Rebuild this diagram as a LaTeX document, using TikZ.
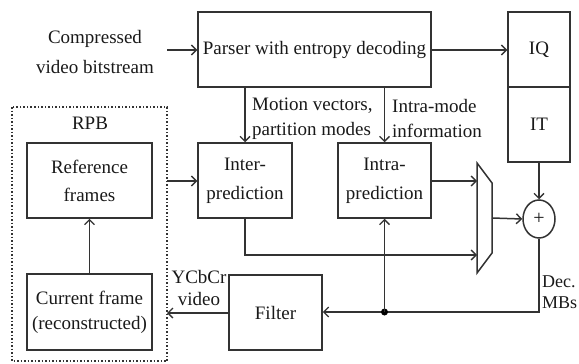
\documentclass[tikz,border=0pt]{standalone}
\usepackage{fontspec}
\setmainfont{Liberation Serif}
\usetikzlibrary{arrows.meta,shapes.geometric,calc}
\begin{document}
\begin{tikzpicture}[x=1pt,y=-1pt,
  every node/.style={font=\fontsize{19}{25}\selectfont, text=black!90},
  blk/.style={draw=black!80, line width=1.5pt, inner sep=0pt, align=center},
  conn/.style={draw=black!80, line width=1.5pt},
  arr/.style={conn, -{Straight Barb[length=5pt,width=10pt,line width=1.4pt]}},
  lbl/.style={inner sep=0pt, align=left, anchor=west}
]
\useasboundingbox (0,0) rectangle (579,364);
% dotted RPB box
\draw[black!80, line width=1.5pt, dotted] (12,107) rectangle (167,361);
\node[inner sep=0pt] (rpb) at (90,123) {RPB};
% boxes
\node[blk, minimum width=233pt, minimum height=75pt] (parser) at (314.5,49.5) {Parser with entropy decoding};
\node[blk, minimum width=62pt, minimum height=75pt] (iq) at (539,49.5) {IQ};
\node[blk, minimum width=62pt, minimum height=75pt] (it) at (539,124.5) {IT};
\node[blk, minimum width=125pt, minimum height=75pt, font=\fontsize{19}{28}\selectfont] (ref) at (89.5,180.5) {Reference\\frames};
\node[blk, minimum width=125pt, minimum height=76pt] (cur) at (89.5,312) {Current frame\\(reconstructed)};
\node[blk, minimum width=94pt, minimum height=75pt, font=\fontsize{19}{29}\selectfont] (inter) at (245,180.5) {Inter-\\prediction};
\node[blk, minimum width=93pt, minimum height=75pt, font=\fontsize{19}{29}\selectfont] (intra) at (384.5,180.5) {Intra-\\prediction};
\node[blk, minimum width=93pt, minimum height=75pt] (filter) at (275.5,312.5) {Filter};
\node[blk, ellipse, minimum width=32pt, minimum height=38pt] (adder) at (539,219) {\fontsize{20}{20}\selectfont +};
% mux
\draw[conn, line join=miter] (477,163) -- (492,183) -- (492,253) -- (477,273) -- cycle;
\coordinate (muxin1) at (477,181);
\coordinate (muxin2) at (477,255);
\coordinate (muxout) at (492,218);
% input
\node[inner sep=0pt, align=center, font=\fontsize{19}{30}\selectfont] (input) at (95,52) {Compressed\\video bitstream};
\coordinate (inpt) at (167,50);
\draw[arr] (inpt) -- (parser.west |- inpt);
\draw[arr] (parser.east |- inpt) -- (iq.west |- inpt);
% parser to predictions
\draw[arr] (parser.south -| inter.north) -- (inter.north);
\draw[arr] (parser.south -| intra.north) -- (intra.north);
\node[lbl] (mvlbl) at (252,119) {Motion vectors,\\partition modes};
\node[lbl] (imlbl) at (392,119) {Intra-mode\\information};
% RPB to inter
\coordinate (rpbout) at (167,181);
\draw[arr] (rpbout) -- (inter.west |- rpbout);
% intra to mux
\draw[arr] (intra.east |- muxin1) -- (muxin1);
% inter to mux
\draw[arr] (inter.south) -- (inter.south |- muxin2) -- (muxin2);
% mux to adder
\draw[arr] (muxout) -- (adder.west);
% IT to adder
\draw[arr] (it.south) -- (adder.north);
% adder to filter
\coordinate (corner) at (539,312);
\coordinate (dot) at (384.5,312);
\draw[arr] (adder.south) -- (corner) -- (filter.east |- corner);
\fill[black] (dot) circle (3.5pt);
\draw[arr] (dot) -- (intra.south);
\node[lbl, font=\fontsize{18}{21}\selectfont] (declbl) at (542,292) {Dec.\\MBs};
% filter to current frame
\coordinate (curin) at (167,313);
\draw[arr] (filter.west |- curin) -- (curin);
\node[inner sep=0pt, align=center, font=\fontsize{19}{22}\selectfont] (ylbl) at (199,288) {YCbCr\\video};
% current to reference
\draw[arr] (cur.north) -- (ref.south);
\end{tikzpicture}
\end{document}
